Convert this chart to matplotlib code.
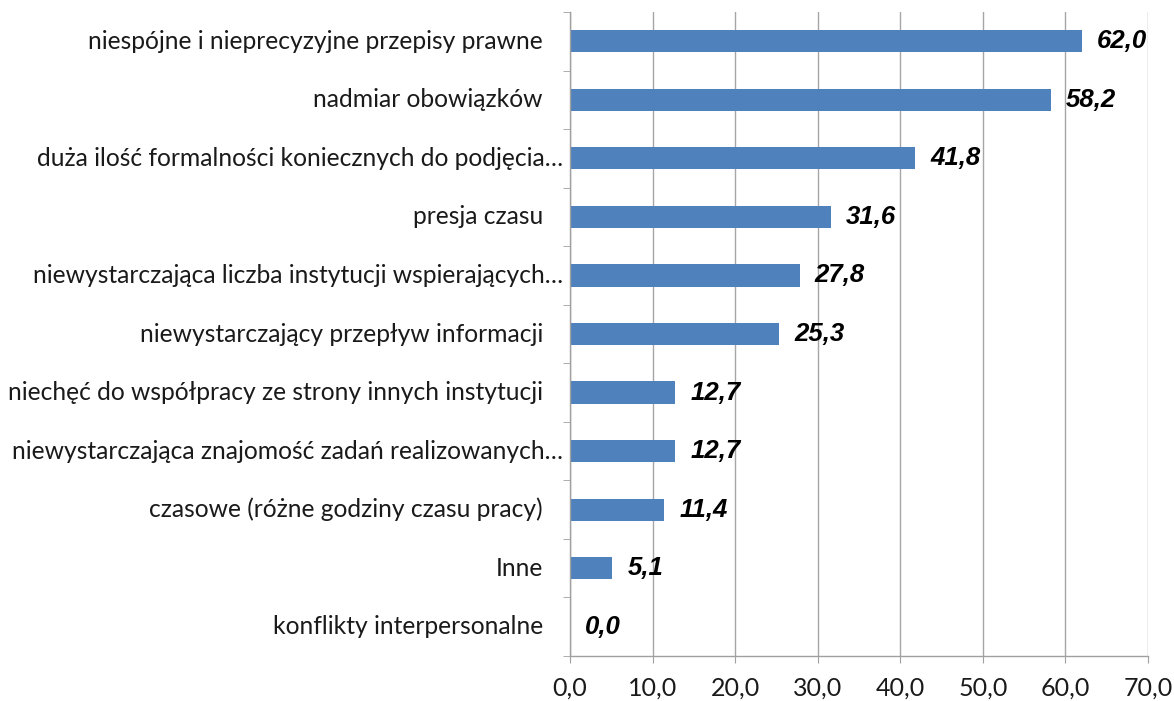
import matplotlib
matplotlib.use("Agg")
import matplotlib.pyplot as plt
import numpy as np

categories = [
    "niespójne i nieprecyzyjne przepisy prawne",
    "nadmiar obowiązków",
    "duża ilość formalności koniecznych do podjęcia…",
    "presja czasu",
    "niewystarczająca liczba instytucji wspierających…",
    "niewystarczający przepływ informacji",
    "niechęć do współpracy ze strony innych instytucji",
    "niewystarczająca znajomość zadań realizowanych…",
    "czasowe (różne godziny czasu pracy)",
    "Inne",
    "konflikty interpersonalne",
]
values = [62.0, 58.2, 41.8, 31.6, 27.8, 25.3, 12.7, 12.7, 11.4, 5.1, 0.0]
xticks = [0, 10, 20, 30, 40, 50, 60, 70]

fig = plt.figure(figsize=(11.74, 7.01), dpi=100)
ax = fig.add_axes([570/1174, 1-656/701, 578/1174, 644/701])

n = len(categories)
y = np.arange(n)[::-1]
ax.barh(y, values, height=0.38, color="#4F81BD", zorder=3)
ax.set_ylim(-0.5, n-0.5)
ax.set_xlim(0, 70)
ax.set_xticks(xticks)
ax.set_xticklabels([f"{v:.1f}".replace(".", ",") for v in xticks],
                   fontfamily="Lato", fontsize=18, color="#1a1a1a")
ax.set_yticks(y)
ax.set_yticklabels([])
ax.set_yticks(np.arange(-0.5, n, 1), minor=True)
ax.tick_params(axis="y", which="major", length=0)
ax.tick_params(axis="y", which="minor", length=5, color="#A0A0A0", direction="out")
ax.tick_params(axis="x", length=5, color="#A0A0A0", pad=10)
ax.grid(axis="x", color="#A6A6A6", linewidth=1, zorder=0)
for s in ["top", "right"]:
    ax.spines[s].set_visible(False)
for s in ["left", "bottom"]:
    ax.spines[s].set_color("#A0A0A0")
    ax.spines[s].set_linewidth(1)
    ax.spines[s].set_zorder(4)

for yi, lab in zip(y, categories):
    off = -5 if lab.endswith("…") else -19.5
    ax.annotate(lab, (0, yi), xytext=(off, 0), textcoords="offset points",
                xycoords=("axes fraction", "data"),
                ha="right", va="center", fontfamily="Lato", fontsize=17.7,
                color="#1a1a1a")

for yi, v in zip(y, values):
    ax.annotate(f"{v:.1f}".replace(".", ","), (v, yi), xytext=(11, 0),
                textcoords="offset points", va="center", ha="left",
                fontfamily="Liberation Sans", fontweight="bold", fontstyle="italic",
                fontsize=18.5, color="black")

fig.savefig("out.png", dpi=100)
